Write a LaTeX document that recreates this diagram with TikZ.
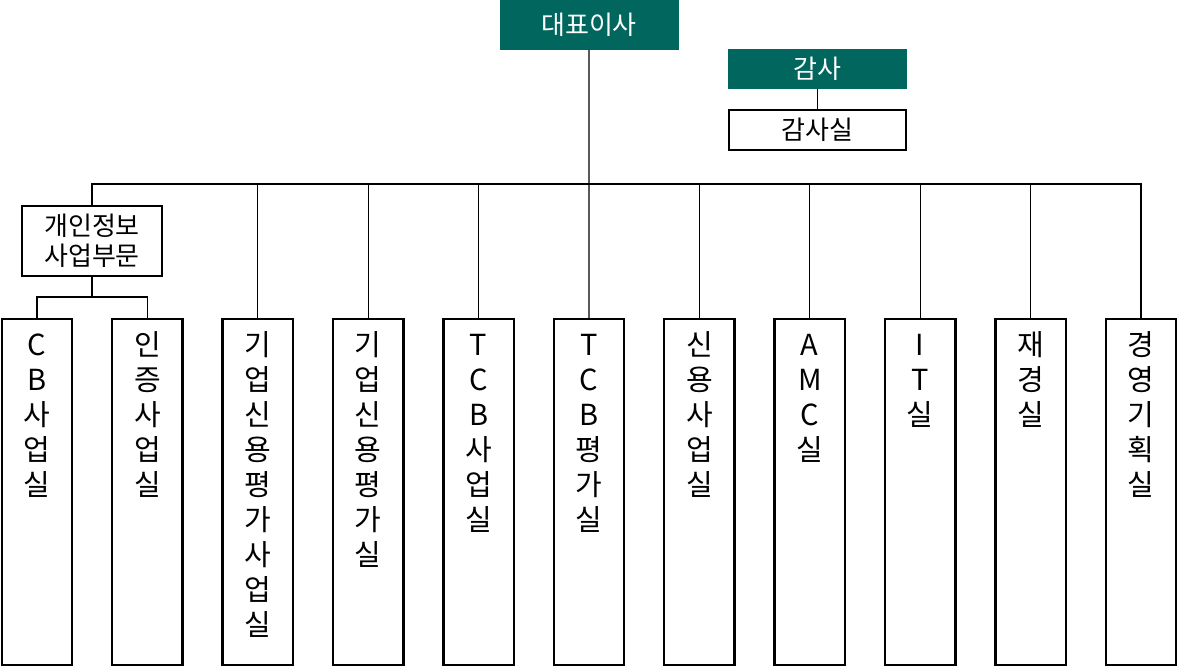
\documentclass[tikz,border=0pt]{standalone}
\usepackage{fontspec}
\setmainfont{Noto Sans CJK KR}
\usetikzlibrary{positioning}
\definecolor{boardgreen}{RGB}{0,102,94}
\newcommand\roomtext[1]{\parbox[t]{66pt}{\centering #1}}

\begin{document}
\begin{tikzpicture}[x=1pt, y=-1pt,
node distance = 39.9pt,
head/.style = {fill=boardgreen, text=white, minimum width=179pt,
               minimum height=#1, inner sep=0pt, outer sep=0pt,
               font=\fontsize{26}{30}\selectfont},
head/.default = 40pt,
unit/.style = {draw=black, line width=2.4pt, fill=white,
               minimum width=#1, inner sep=0pt, outer sep=0pt,
               align=center,
               font=\fontsize{26}{30}\selectfont},
room/.style = {draw=black, line width=2.4pt,
               minimum width=70.5pt,
               inner sep=0pt, outer sep=0pt,
               text height=36pt, text depth=310pt, % text starts at the top
               font=\fontsize{29}{35}\selectfont},
link/.style = {line width=1.3pt},
]
\useasboundingbox (0,0) rectangle (1177,666);
        % top
        \node (ceo)       [head=50pt] at (589,25) {대표이사};
        \node (audit)     [head]      at (817.5,69) {감사};
        \node (auditroom) [unit=177pt, minimum height=40pt] at (817.5,130) {감사실};
        \node (pi)        [unit=140pt, minimum height=70pt] at (92,241)
                          {개인정보\\사업부문};
        % rooms
        \node (cb)       [room] at (37,492) {\roomtext{C\\B\\사\\업\\실}};
        \node (cert)     [room, right=of cb] {\roomtext{인\\증\\사\\업\\실}};
        \node (corpbiz)  [room, right=of cert] {\roomtext{기\\업\\신\\용\\평\\가\\사\\업\\실}};
        \node (corpeval) [room, right=of corpbiz] {\roomtext{기\\업\\신\\용\\평\\가\\실}};
        \node (tcbbiz)   [room, right=of corpeval] {\roomtext{T\\C\\B\\사\\업\\실}};
        \node (tcbeval)  [room, right=of tcbbiz] {\roomtext{T\\C\\B\\평\\가\\실}};
        \node (credit)   [room, right=of tcbeval] {\roomtext{신\\용\\사\\업\\실}};
        \node (amc)      [room, right=of credit] {\roomtext{A\\M\\C\\실}};
        \node (it)       [room, right=of amc] {\roomtext{I\\T\\실}};
        \node (fin)      [room, right=of it] {\roomtext{재\\경\\실}};
        \node (plan)     [room, right=of fin] {\roomtext{경\\영\\기\\획\\실}};
        \coordinate (bus) at (589,184);
        \coordinate (sub) at (92,297);
        % lines
        \draw[link] (ceo.south) -- (tcbeval.north);
        \draw[link] (audit) -- (auditroom);
        \draw[link] (pi.north) |- (bus) -| (plan.north);
        \foreach \r in {corpbiz,corpeval,tcbbiz,credit,amc,it,fin}
            \draw[link] (\r.north) -- (\r.north |- bus);
        \draw[link] (pi.south) -- (sub);
        \draw[link] (cb.north) |- (sub) -| (cert.north);
    \end{tikzpicture}
\end{document}
